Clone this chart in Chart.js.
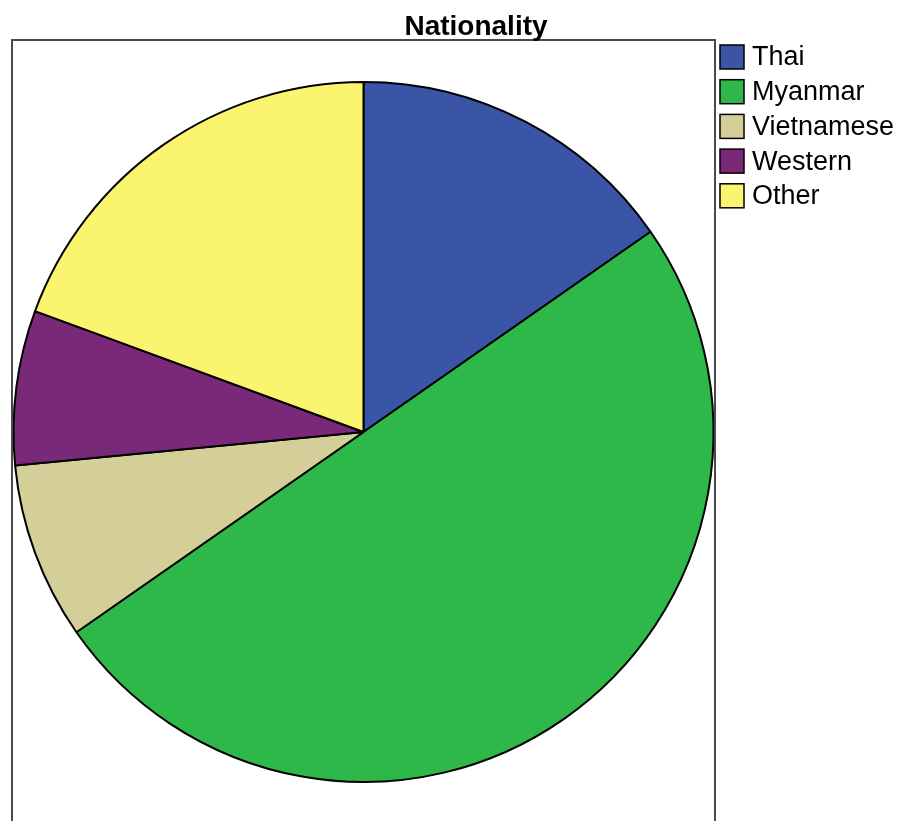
<!DOCTYPE html>
<html lang="en">
<head>
    <meta charset="UTF-8">
    <title>Nationality</title>
    <script src="https://cdn.jsdelivr.net/npm/chart.js@4.4.0/dist/chart.umd.min.js"></script>
    <style>
        html, body { margin: 0; padding: 0; background: #fff; }
        canvas { display: block; }
    </style>
</head>
<body>
    <canvas id="natChart" width="904" height="821"></canvas>

    <script>
        // Data
        const categories = ['Thai', 'Myanmar', 'Vietnamese', 'Western', 'Other'];
        const counts = [15, 49, 8, 7, 19];
        const sliceColors = ['#3B55A6', '#2EB84A', '#D4CF98', '#7A2878', '#FAF46E'];
        const chartTitle = 'Nationality';

        // frame, title and legend are drawn by hand (SPSS look)
        const frameAndLegend = {
            id: 'frameAndLegend',
            afterDraw(chart) {
                const c = chart.ctx;
                c.save();

                // frame around the plot
                c.strokeStyle = '#4a4a4a';
                c.lineWidth = 2;
                c.beginPath();
                c.moveTo(12, 821);
                c.lineTo(12, 40);
                c.lineTo(715, 40);
                c.lineTo(715, 821);
                c.stroke();

                // title
                c.fillStyle = '#000';
                c.font = 'bold 28px "Liberation Sans", Arial, sans-serif';
                c.textAlign = 'center';
                c.textBaseline = 'alphabetic';
                c.fillText(chartTitle, 476, 35);

                // legend
                c.font = '27px "Liberation Sans", Arial, sans-serif';
                c.textAlign = 'left';
                c.textBaseline = 'middle';
                categories.forEach((label, i) => {
                    const y = 57 + i * 34.7;
                    c.fillStyle = sliceColors[i];
                    c.fillRect(720, y - 12, 24, 24);
                    c.strokeStyle = '#000';
                    c.lineWidth = 1.5;
                    c.strokeRect(720, y - 12, 24, 24);
                    c.fillStyle = '#000';
                    c.fillText(label, 752, y + 1);
                });

                c.restore();
            }
        };

        const ctx = document.getElementById('natChart').getContext('2d');
        const chart = new Chart(ctx, {
            type: 'pie',
            data: {
                labels: categories,
                datasets: [{
                    data: counts,
                    backgroundColor: sliceColors,
                    borderColor: '#000',
                    borderWidth: 2
                }]
            },
            options: {
                responsive: false,
                animation: false,
                layout: { padding: { left: 12, right: 189, top: 81, bottom: 38 } },
                plugins: {
                    legend: { display: false },
                    title: { display: false },
                    tooltip: { enabled: false }
                }
            },
            plugins: [frameAndLegend]
        });
    </script>
</body>
</html>
